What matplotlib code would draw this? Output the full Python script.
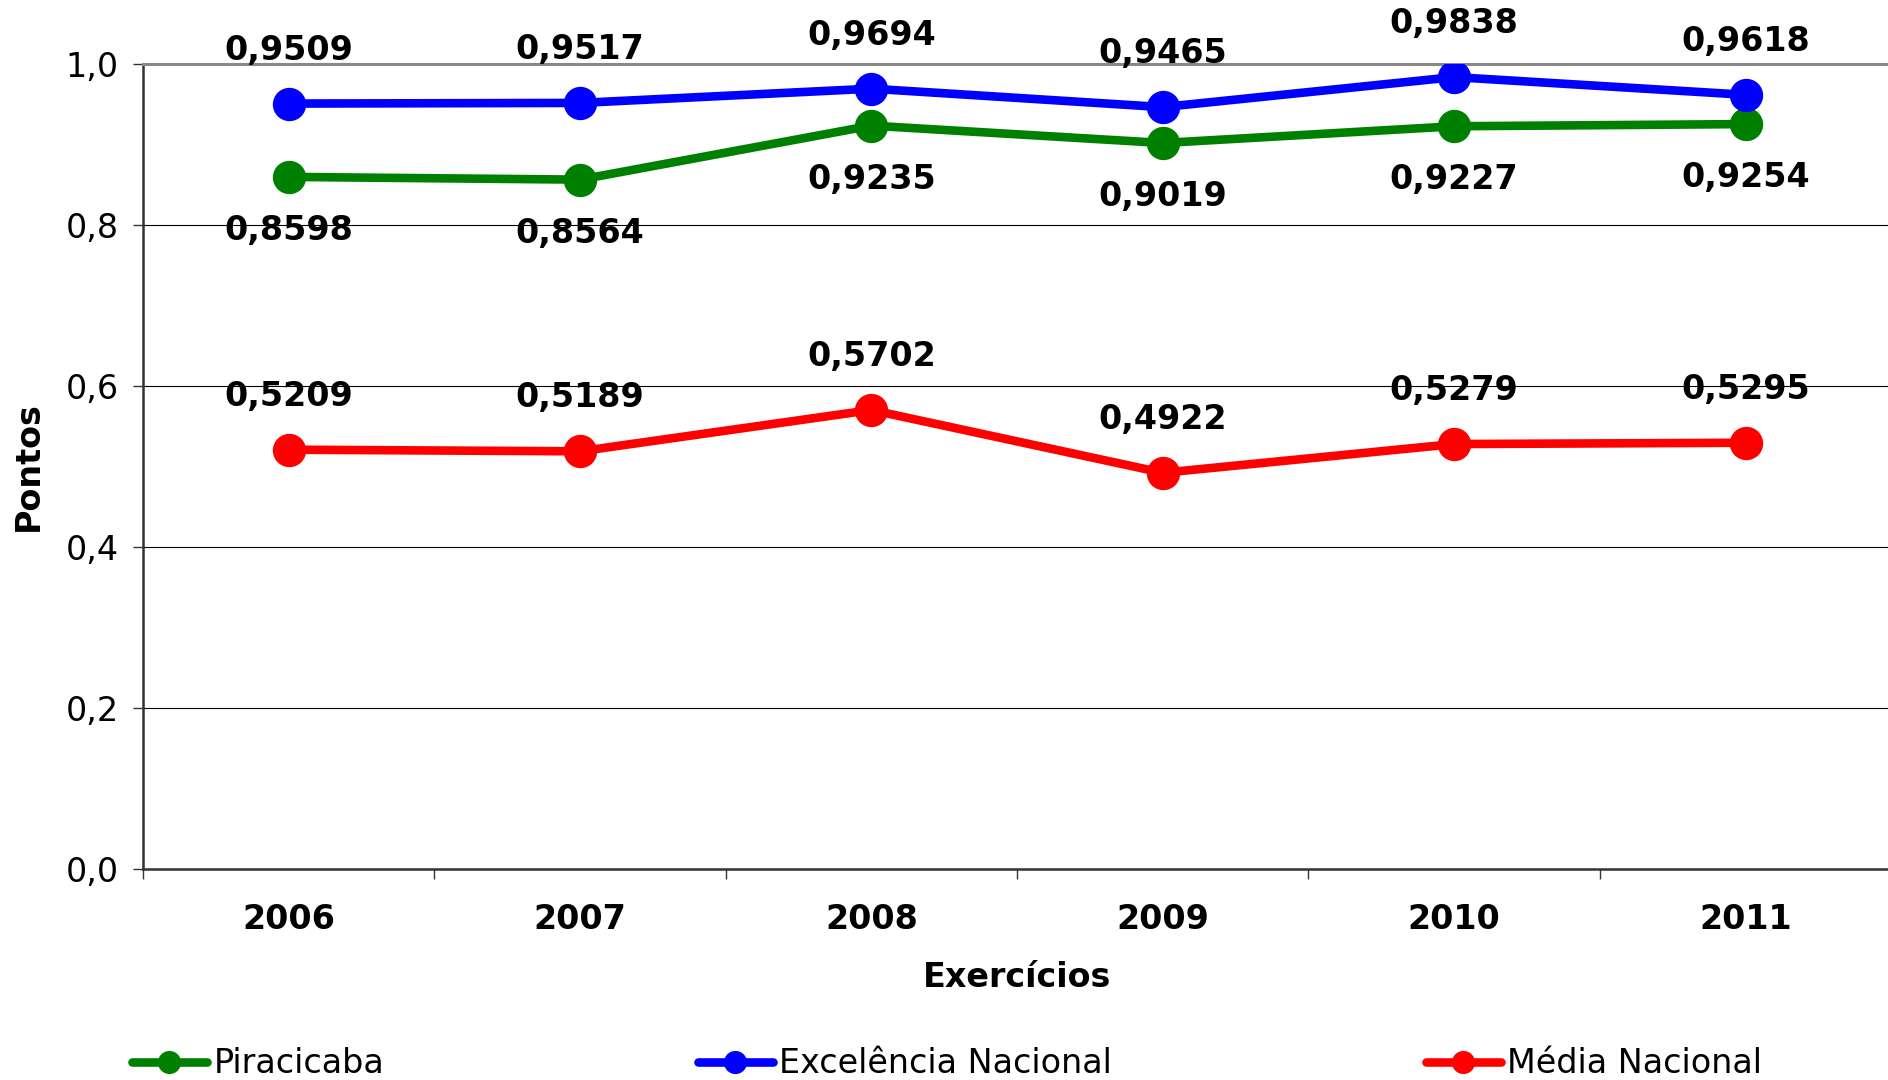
# Indicador por exercício: Piracicaba x Excelência Nacional x Média Nacional
import matplotlib
matplotlib.use("Agg")
import matplotlib.pyplot as plt
from matplotlib.ticker import FixedLocator, FuncFormatter

anos = ["2006", "2007", "2008", "2009", "2010", "2011"]
piracicaba = [0.8598, 0.8564, 0.9235, 0.9019, 0.9227, 0.9254]
excelencia = [0.9509, 0.9517, 0.9694, 0.9465, 0.9838, 0.9618]
media = [0.5209, 0.5189, 0.5702, 0.4922, 0.5279, 0.5295]

series = [("Piracicaba", piracicaba, "#008000", -1),
          ("Excelência Nacional", excelencia, "#0000ff", 1),
          ("Média Nacional", media, "#ff0000", 1)]

def virgula(v, pos=None):
    return f"{v:.1f}".replace(".", ",")

fig = plt.figure(figsize=(18.88, 10.8), dpi=100)
ax = fig.add_axes([0.0757, 0.1954, 0.926, 0.7453])

x = list(range(len(anos)))
for nome, vals, cor, lado in series:
    ax.plot(x, vals, "-o", color=cor, lw=6.2, ms=23, label=nome,
            solid_capstyle="round", zorder=3)
    for xi, v in zip(x, vals):
        ax.annotate(f"{v:.4f}".replace(".", ","), (xi, v),
                    xytext=(0, 38.5 * lado), textcoords="offset points",
                    ha="center", va="center", fontsize=24, fontweight="bold",
                    zorder=4)

ax.set_xlim(-0.5, len(anos) - 0.5)
ax.set_ylim(0, 1.0)
ax.set_yticks([0, 0.2, 0.4, 0.6, 0.8, 1.0])
ax.yaxis.set_major_formatter(FuncFormatter(virgula))
ax.set_xticks(x)
ax.set_xticklabels(anos, fontsize=24, fontweight="bold")
ax.xaxis.set_minor_locator(FixedLocator([i - 0.5 for i in range(len(anos) + 1)]))
ax.tick_params(axis="x", which="major", length=0, pad=24.5)
ax.tick_params(axis="x", which="minor", length=7.5, width=1, color="#333333")
ax.tick_params(axis="y", length=7.5, width=1, pad=10, labelsize=24,
               color="#333333")

ax.grid(axis="y", color="black", lw=0.8)
ax.set_axisbelow(True)
ax.spines["right"].set_visible(False)
ax.spines["top"].set_color("#888888")
ax.spines["top"].set_linewidth(2.2)
for lado in ["left", "bottom"]:
    ax.spines[lado].set_color("#333333")
    ax.spines[lado].set_linewidth(1.8)

ax.set_xlabel("Exercícios", fontsize=24, fontweight="bold", labelpad=18)
ax.set_ylabel("Pontos", fontsize=24, fontweight="bold", labelpad=15)

fig.legend(loc="lower left", bbox_to_anchor=(0.054, -0.028), ncol=3,
           frameon=False, fontsize=24, handlelength=2.25, handletextpad=0.2,
           columnspacing=9.4, markerscale=0.68)

fig.savefig("out.png", dpi=100)
